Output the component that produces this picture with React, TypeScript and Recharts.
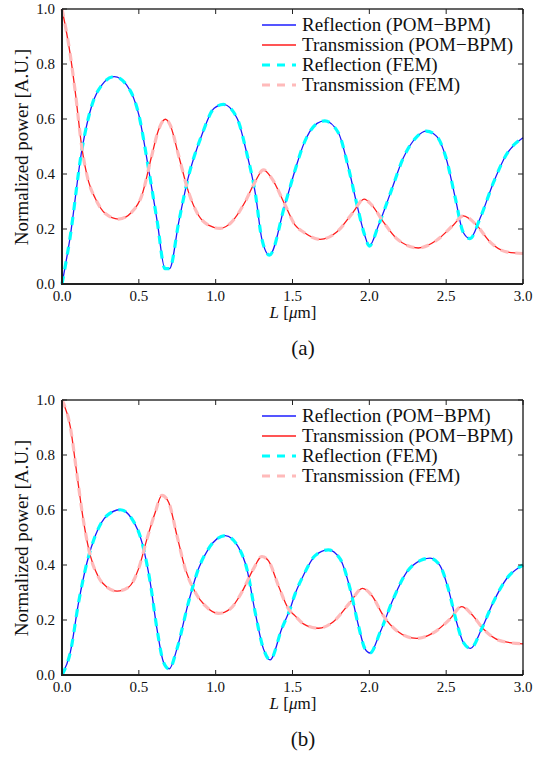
import React from "react";
import { LineChart, Line, XAxis, YAxis, Legend } from "recharts";

const xTicks = [0, 0.5, 1, 1.5, 2, 2.5, 3];
const yTicks = [0, 0.2, 0.4, 0.6, 0.8, 1];

const seriesNames = [
  "Reflection (POM\u2212BPM)",
  "Transmission (POM\u2212BPM)",
  "Reflection (FEM)",
  "Transmission (FEM)",
];

// panel (a)
const reflLA = [0, 0.05, 0.13, 0.195, 0.26, 0.34, 0.42, 0.5, 0.56, 0.62, 0.67, 0.7, 0.76, 0.82, 0.91, 0.99, 1.05, 1.14, 1.2, 1.26, 1.3, 1.35, 1.45, 1.52, 1.57, 1.66, 1.71, 1.8, 1.86, 1.92, 1.97, 2.0, 2.06, 2.14, 2.22, 2.31, 2.37, 2.44, 2.5, 2.56, 2.61, 2.655, 2.72, 2.81, 2.89, 3.0];
const reflA = [0, 0.16, 0.49, 0.651, 0.724, 0.754, 0.724, 0.615, 0.43, 0.226, 0.056, 0.056, 0.226, 0.384, 0.542, 0.639, 0.653, 0.602, 0.481, 0.323, 0.165, 0.105, 0.287, 0.42, 0.505, 0.584, 0.593, 0.548, 0.432, 0.287, 0.177, 0.138, 0.214, 0.335, 0.457, 0.536, 0.556, 0.536, 0.457, 0.311, 0.189, 0.165, 0.238, 0.372, 0.469, 0.532];

const transLA = [0, 0.054, 0.086, 0.13, 0.173, 0.217, 0.282, 0.368, 0.455, 0.52, 0.585, 0.628, 0.672, 0.704, 0.758, 0.823, 0.888, 0.953, 1.029, 1.105, 1.192, 1.257, 1.311, 1.365, 1.452, 1.517, 1.571, 1.68, 1.788, 1.896, 1.966, 2.016, 2.091, 2.178, 2.319, 2.438, 2.546, 2.611, 2.698, 2.785, 2.893, 3.0];
const transA = [1.0, 0.833, 0.7, 0.493, 0.372, 0.311, 0.256, 0.236, 0.262, 0.323, 0.469, 0.56, 0.599, 0.578, 0.469, 0.335, 0.25, 0.214, 0.202, 0.226, 0.299, 0.372, 0.415, 0.384, 0.287, 0.214, 0.189, 0.162, 0.189, 0.262, 0.309, 0.287, 0.226, 0.165, 0.131, 0.159, 0.214, 0.248, 0.214, 0.153, 0.117, 0.111];

// panel (b)
const reflLB = [0, 0.054, 0.108, 0.163, 0.217, 0.293, 0.379, 0.455, 0.52, 0.574, 0.618, 0.661, 0.698, 0.748, 0.823, 0.888, 0.953, 1.008, 1.062, 1.148, 1.203, 1.257, 1.311, 1.354, 1.43, 1.484, 1.517, 1.571, 1.647, 1.733, 1.81, 1.875, 1.929, 1.972, 2.005, 2.07, 2.156, 2.243, 2.33, 2.395, 2.46, 2.514, 2.568, 2.611, 2.659, 2.731, 2.806, 2.893, 3.0];
const reflB = [0, 0.082, 0.264, 0.41, 0.507, 0.58, 0.601, 0.568, 0.483, 0.337, 0.168, 0.046, 0.022, 0.095, 0.264, 0.386, 0.459, 0.495, 0.507, 0.465, 0.386, 0.228, 0.095, 0.055, 0.168, 0.24, 0.295, 0.362, 0.434, 0.455, 0.422, 0.313, 0.18, 0.095, 0.08, 0.155, 0.277, 0.374, 0.416, 0.425, 0.398, 0.313, 0.192, 0.119, 0.097, 0.168, 0.264, 0.35, 0.4];

const transLB = [0, 0.054, 0.098, 0.141, 0.184, 0.238, 0.293, 0.358, 0.433, 0.498, 0.553, 0.607, 0.65, 0.693, 0.748, 0.802, 0.867, 0.932, 1.018, 1.094, 1.17, 1.246, 1.3, 1.343, 1.408, 1.474, 1.517, 1.571, 1.669, 1.766, 1.875, 1.955, 2.016, 2.091, 2.178, 2.308, 2.416, 2.525, 2.6, 2.666, 2.741, 2.85, 3.0];
const transB = [1.0, 0.902, 0.726, 0.556, 0.434, 0.355, 0.319, 0.305, 0.319, 0.386, 0.495, 0.592, 0.653, 0.629, 0.507, 0.386, 0.301, 0.252, 0.224, 0.24, 0.301, 0.386, 0.431, 0.416, 0.325, 0.24, 0.215, 0.186, 0.17, 0.194, 0.264, 0.315, 0.289, 0.216, 0.161, 0.133, 0.153, 0.204, 0.249, 0.221, 0.168, 0.125, 0.113];

const lineStyles = [
  { color: "#1c1cff", width: 1.3, dash: "" },
  { color: "#ff1c1c", width: 1.3, dash: "" },
  { color: "#00ffff", width: 3.2, dash: "8 7" },
  { color: "#ffbaba", width: 3.2, dash: "8 7" },
];

const AXIS = "#222";
const TICK_LEN = 5;
const PLOT_W = 461;
const PLOT_H = 275;

function pts(ls: number[], vs: number[]) {
  return ls.map((L, i) => ({ L, v: vs[i] }));
}

const fmt = (v: number) => v.toFixed(1);

// frame edges and inward ticks are drawn as filled rects
function BottomTick(props: any) {
  const x = Number(props.x);
  const y = Number(props.y);
  const value = props.payload.value;
  return (
    <g>
      {value === 0 && <rect x={x - 1} y={y - 1} width={PLOT_W + 1} height={2} fill={AXIS} />}
      {value === 0 && <rect x={x} y={y - PLOT_H - 0.6} width={PLOT_W} height={1.2} fill="#000" />}
      <rect x={x - 0.5} y={y - TICK_LEN} width={1} height={TICK_LEN} fill={AXIS} />
      <rect x={x - 0.5} y={y - PLOT_H} width={1} height={TICK_LEN} fill={AXIS} />
      <text x={x} y={y + 17} textAnchor="middle" fontSize={15} fill="#111">
        {fmt(value)}
      </text>
    </g>
  );
}

function LeftTick(props: any) {
  const x = Number(props.x);
  const y = Number(props.y);
  const value = props.payload.value;
  return (
    <g>
      {value === 0 && <rect x={x - 1} y={y - PLOT_H} width={2} height={PLOT_H + 1} fill={AXIS} />}
      {value === 0 && <rect x={x + PLOT_W - 0.6} y={y - PLOT_H} width={1.2} height={PLOT_H} fill="#000" />}
      <rect x={x} y={y - 0.5} width={TICK_LEN} height={1} fill={AXIS} />
      <rect x={x + PLOT_W - TICK_LEN} y={y - 0.5} width={TICK_LEN} height={1} fill={AXIS} />
      <text x={x - 7} y={y + 5} textAnchor="end" fontSize={15} fill="#111">
        {fmt(value)}
      </text>
    </g>
  );
}

function LegendBox() {
  return (
    <svg width={280} height={100} style={{ display: "block" }}>
      {seriesNames.map((name, i) => {
        const s = lineStyles[i];
        const y = 15 + i * 20;
        return (
          <g key={name}>
            <path d={`M2,${y}H36`} stroke={s.color} strokeWidth={s.width} strokeDasharray={s.dash || undefined} fill="none" />
            <text x={42} y={y + 6} fontSize={19} fill="#111">
              {name}
            </text>
          </g>
        );
      })}
    </svg>
  );
}

function AxisLabels({ caption }: { caption: string }) {
  return (
    <g fill="#111">
      <text x={28} y={147} transform="rotate(-90 28 147)" textAnchor="middle" fontSize={19}>
        Normalized power [A.U.]
      </text>
      <text x={293} y={318} textAnchor="middle" fontSize={17}>
        <tspan fontStyle="italic">L</tspan> [<tspan fontStyle="italic">{"\u03bc"}</tspan>m]
      </text>
      <text x={303} y={355} textAnchor="middle" fontSize={21}>
        {caption}
      </text>
    </g>
  );
}

function Panel({
  refl,
  trans,
  reflFem,
  transFem,
  caption,
  top,
}: {
  refl: { L: number; v: number }[];
  trans: { L: number; v: number }[];
  reflFem: { L: number; v: number }[];
  transFem: { L: number; v: number }[];
  caption: string;
  top: number;
}) {
  const series = [refl, trans, reflFem, transFem];
  return (
    <div style={{ position: "absolute", left: 0, top }}>
      <LineChart width={540} height={366} margin={{ top: 9, right: 17, bottom: 52, left: 0 }}>
        <XAxis
          xAxisId={0}
          type="number"
          dataKey="L"
          domain={[0, 3]}
          ticks={xTicks}
          interval={0}
          tickSize={0}
          tickMargin={0}
          height={30}
          axisLine={false}
          tickLine={false}
          tick={<BottomTick />}
          label={<AxisLabels caption={caption} />}
        />
        <YAxis
          yAxisId={0}
          type="number"
          domain={[0, 1]}
          ticks={yTicks}
          interval={0}
          tickSize={0}
          tickMargin={0}
          width={62}
          axisLine={false}
          tickLine={false}
          tick={<LeftTick />}
        />
        <Legend
          layout="horizontal"
          verticalAlign="middle"
          align="center"
          content={<LegendBox />}
          wrapperStyle={{ position: "absolute", left: 260, top: 10, width: 280, height: 100 }}
        />
        {series.map((d, i) => (
          <Line
            key={i}
            data={d}
            dataKey="v"
            type="monotone"
            stroke={lineStyles[i].color}
            strokeWidth={lineStyles[i].width}
            strokeDasharray={lineStyles[i].dash || undefined}
            dot={false}
            activeDot={false}
            isAnimationActive={false}
          />
        ))}
      </LineChart>
    </div>
  );
}

export default function App() {
  return (
    <div style={{ position: "absolute", left: 0, top: 0, width: 540, height: 757, background: "#fff" }}>
      <Panel
        refl={pts(reflLA, reflA)}
        trans={pts(transLA, transA)}
        reflFem={pts(reflLA, reflA)}
        transFem={pts(transLA, transA)}
        caption="(a)"
        top={0}
      />
      <Panel
        refl={pts(reflLB, reflB)}
        trans={pts(transLB, transB)}
        reflFem={pts(reflLB, reflB)}
        transFem={pts(transLB, transB)}
        caption="(b)"
        top={391}
      />
    </div>
  );
}
